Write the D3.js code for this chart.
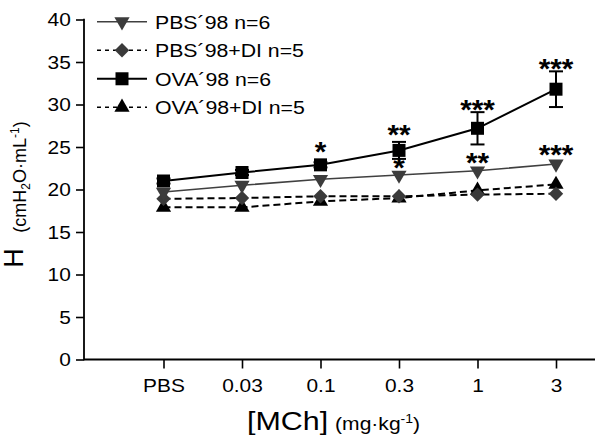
<!DOCTYPE html>
<html>
<head>
<meta charset="utf-8">
<script src="https://cdn.jsdelivr.net/npm/d3@7"></script>
<style>
  html, body { margin: 0; padding: 0; background: #fff; }
  svg { display: block; font-family: "Liberation Sans", Arial, Helvetica, sans-serif; }
</style>
</head>
<body>
<svg id="chart" width="600" height="440"></svg>
<script>
// ---- data ----
const categories = ["PBS", "0.03", "0.1", "0.3", "1", "3"];
const yTicks = [0, 5, 10, 15, 20, 25, 30, 35, 40];

const seriesNames = ["PBS\u00B498 n=6", "PBS\u00B498+DI n=5", "OVA\u00B498 n=6", "OVA\u00B498+DI n=5"];
const pbs98      = [19.7, 20.5, 21.2, 21.7, 22.2, 23.0];
const pbs98DI    = [18.9, 19.0, 19.2, 19.2, 19.4, 19.5];
const ova98      = [21.0, 22.0, 22.9, 24.6, 27.2, 31.8];
const ova98DI    = [17.9, 17.9, 18.6, 19.0, 19.9, 20.6];
const ova98Err   = [0.3, 0.3, 0.3, 1.0, 1.9, 2.1];

// significance annotations: category, label, level (data units, star centre)
const starCats   = ["0.1", "0.3", "1", "3", "0.3", "1", "3"];
const starLabels = ["*", "**", "***", "***", "*", "**", "***"];
const starLevels = [25.0, 27.0, 29.9, 34.8, 23.1, 23.7, 24.6];

// ---- layout ----
const svg = d3.select("#chart");
const FONT = "'Liberation Sans', Arial, Helvetica, sans-serif";
const SX = 1.1; // horizontal text stretch seen in the reference

const x = d3.scalePoint().domain(categories).range([163.5, 556]);
const y = d3.scaleLinear().domain([0, 40]).range([359.5, 19.5]);
const axisLeftX = 84, axisRightX = 595;

// Y axis
const gy = svg.append("g").attr("transform", `translate(${axisLeftX},0)`)
  .call(d3.axisLeft(y).tickValues(yTicks).tickSize(8).tickPadding(5).tickFormat(d3.format("d")));
gy.select(".domain").remove();
gy.selectAll(".tick line").attr("stroke", "#000").attr("stroke-width", 1.6);
gy.selectAll(".tick text").attr("font-size", 19).attr("font-family", FONT).attr("fill", "#000")
  .attr("x", -12).attr("transform", `scale(${SX},1)`);
svg.append("line").attr("x1", axisLeftX).attr("x2", axisLeftX)
  .attr("y1", y(40) - 0.8).attr("y2", y(0) + 0.8).attr("stroke", "#000").attr("stroke-width", 1.8);

// X axis
const gx = svg.append("g").attr("transform", `translate(0,${y(0)})`)
  .call(d3.axisBottom(x).tickSize(9).tickPadding(10));
gx.select(".domain").remove();
gx.selectAll(".tick line").attr("stroke", "#000").attr("stroke-width", 1.6);
gx.selectAll(".tick text").attr("font-size", 19).attr("font-family", FONT).attr("fill", "#000")
  .attr("transform", `scale(${SX},1)`);
svg.append("line").attr("x1", axisLeftX).attr("x2", axisRightX)
  .attr("y1", y(0)).attr("y2", y(0)).attr("stroke", "#000").attr("stroke-width", 1.8);

// Axis titles
svg.append("text").attr("transform", "translate(23,258) rotate(-90)")
  .attr("text-anchor", "middle").attr("font-size", 27).attr("font-family", FONT).text("H");
const yt = svg.append("text").attr("transform", "translate(26,177) rotate(-90)")
  .attr("text-anchor", "middle").attr("font-size", 18).attr("font-family", FONT);
yt.append("tspan").text("(cmH");
yt.append("tspan").attr("font-size", 12).attr("dy", 4).text("2");
yt.append("tspan").attr("dy", -4).text("O\u00B7mL");
yt.append("tspan").attr("font-size", 12).attr("dy", -7).text("-1");
yt.append("tspan").attr("dy", 7).text(")");

const xt = svg.append("text").attr("transform", `translate(247,430) scale(1.17,1)`)
  .attr("font-family", FONT);
xt.append("tspan").attr("font-size", 26).text("[MCh]");
xt.append("tspan").attr("font-size", 18).attr("dx", 6).text("(mg\u00B7kg");
xt.append("tspan").attr("font-size", 12).attr("dy", -7).text("-1");
xt.append("tspan").attr("font-size", 18).attr("dy", 7).text(")");

// ---- series ----
const symTri = d3.symbol().type(d3.symbolTriangle).size(100);
const symSq = d3.symbol().type(d3.symbolSquare).size(169);
const symDia = d3.symbol().type(d3.symbolSquare).size(104);

const series = [
  { name: seriesNames[3], values: ova98DI, color: "#000", lw: 2, dash: "7,4", sym: symTri, rot: 0, mfill: "#000" },
  { name: seriesNames[1], values: pbs98DI, color: "#000", lw: 2, dash: "7,4", sym: symDia, rot: 45, mfill: "#3a3a3a" },
  { name: seriesNames[0], values: pbs98,   color: "#404040", lw: 1.6, dash: null, sym: symTri, rot: 180, mfill: "#3c3c3c" },
  { name: seriesNames[2], values: ova98,   color: "#000", lw: 2, dash: null, sym: symSq, rot: 0, mfill: "#000" }
];

const line = d3.line().x((d, i) => x(categories[i])).y(d => y(d));

// error bars for OVA'98
const eg = svg.append("g");
ova98.forEach((v, i) => {
  const cx = x(categories[i]), e = ova98Err[i];
  eg.append("line").attr("x1", cx).attr("x2", cx).attr("y1", y(v - e)).attr("y2", y(v + e))
    .attr("stroke", "#000").attr("stroke-width", 2);
  [v - e, v + e].forEach(t => eg.append("line").attr("x1", cx - 7).attr("x2", cx + 7)
    .attr("y1", y(t)).attr("y2", y(t)).attr("stroke", "#000").attr("stroke-width", 2));
});

series.forEach(s => {
  svg.append("path").datum(s.values).attr("d", line).attr("fill", "none")
    .attr("stroke", s.color).attr("stroke-width", s.lw)
    .attr("stroke-dasharray", s.dash);
});
series.forEach(s => {
  svg.append("g").selectAll("path").data(s.values).join("path")
    .attr("d", s.sym)
    .attr("transform", (d, i) => `translate(${x(categories[i])},${y(d)}) rotate(${s.rot})`)
    .attr("fill", s.mfill);
});

// significance stars
svg.append("g").selectAll("text").data(starLabels).join("text")
  .attr("transform", (d, i) => `translate(${x(starCats[i])},${y(starLevels[i]) + 14}) scale(${SX},1)`)
  .attr("text-anchor", "middle").attr("font-size", 27).attr("font-weight", "bold")
  .attr("font-family", FONT).text(d => d);

// ---- legend ----
const legendOrder = [
  { name: seriesNames[0], color: "#404040", lw: 1.6, dash: null, sym: symTri, rot: 180, mfill: "#3c3c3c" },
  { name: seriesNames[1], color: "#000", lw: 1.6, dash: "4,4", sym: symDia, rot: 45, mfill: "#3a3a3a" },
  { name: seriesNames[2], color: "#000", lw: 2, dash: null, sym: symSq, rot: 0, mfill: "#000" },
  { name: seriesNames[3], color: "#000", lw: 1.6, dash: "4,4", sym: symTri, rot: 0, mfill: "#000" }
];
const legY = d3.scalePoint().domain(legendOrder.map(d => d.name)).range([21.7, 107.3]);
const lg = svg.append("g").selectAll("g").data(legendOrder).join("g")
  .attr("transform", d => `translate(0,${legY(d.name)})`);
lg.append("line").attr("x1", 97).attr("x2", 147).attr("y1", 0).attr("y2", 0)
  .attr("stroke", d => d.color).attr("stroke-width", d => d.lw).attr("stroke-dasharray", d => d.dash);
lg.append("path").attr("d", d => d.sym()).attr("transform", d => `translate(122,0) rotate(${d.rot})`)
  .attr("fill", d => d.mfill);
lg.append("text").attr("transform", `translate(155,7) scale(1.12,1)`)
  .attr("font-size", 19).attr("font-family", FONT).text(d => d.name);
</script>
</body>
</html>
